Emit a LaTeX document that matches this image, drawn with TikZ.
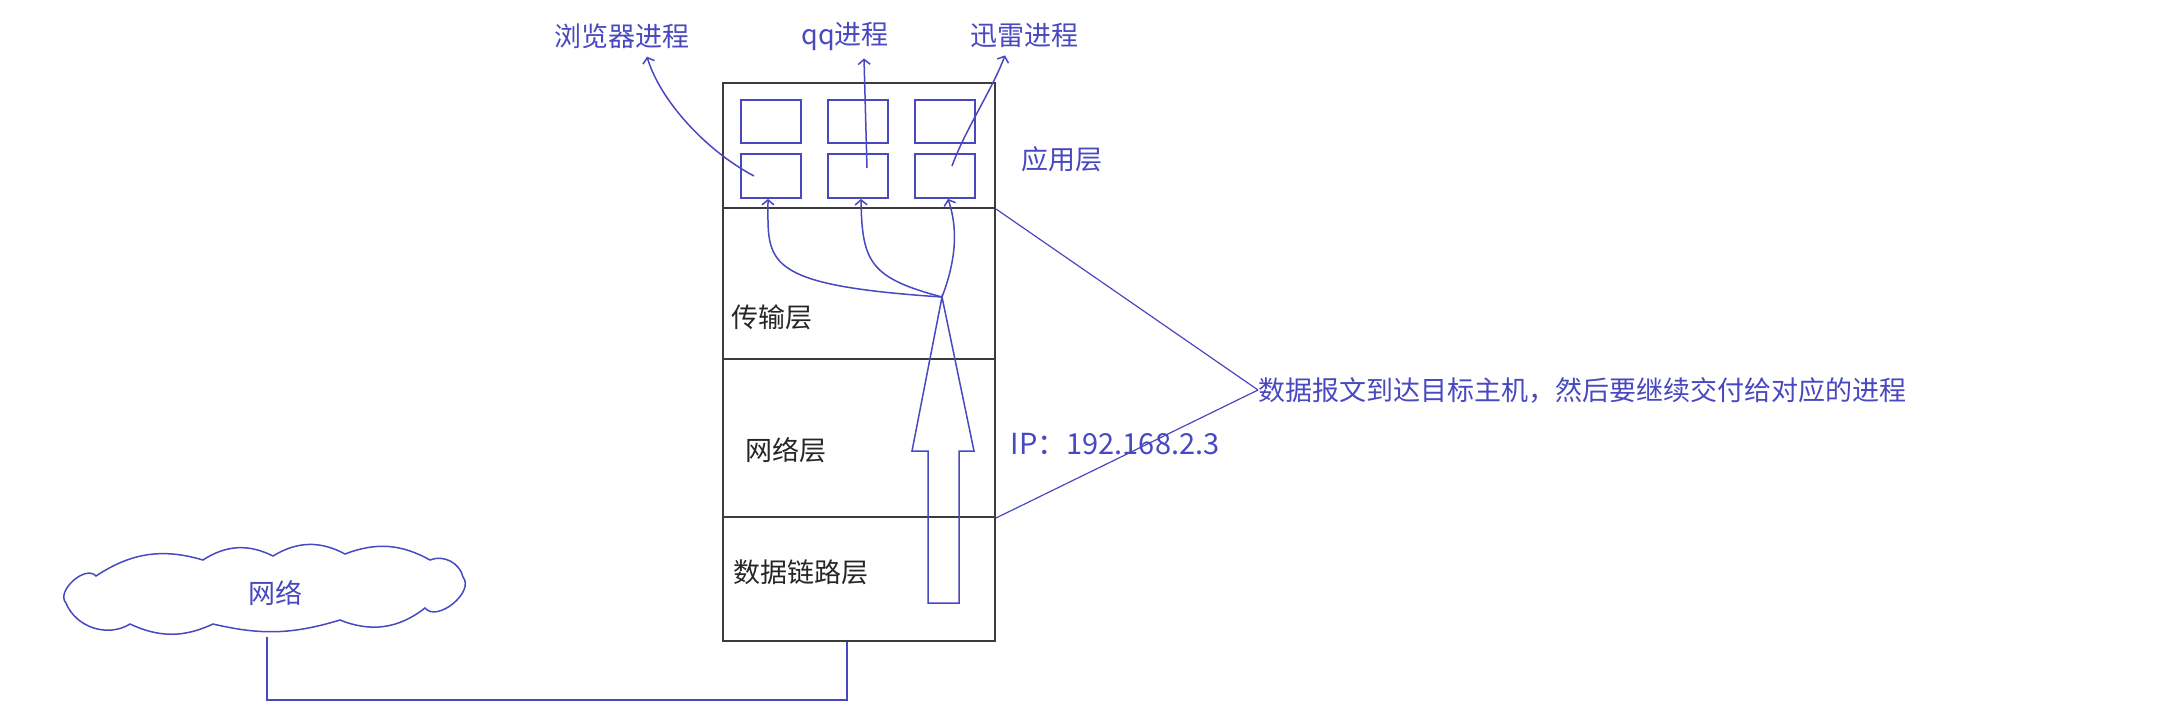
\documentclass[tikz,border=0pt]{standalone}
\usepackage{fontspec}
\setmainfont{Noto Sans CJK SC}
\usetikzlibrary{arrows.meta}

\definecolor{penblue}{RGB}{72,72,192}
\definecolor{framegray}{RGB}{60,60,60}

\tikzset{
	layer/.style = {draw = framegray, line width = 2pt, minimum width = 272pt, inner sep = 0pt},
	proc/.style = {draw = penblue, line width = 1.8pt, minimum width = 60pt, minimum height = 44pt, inner sep = 0pt},
	bluetext/.style = {text = penblue, inner sep = 2pt, font = \fontsize{27}{30}\selectfont},
	darktext/.style = {text = black!85, inner sep = 2pt, font = \fontsize{27}{30}\selectfont},
	flow/.style = {draw = penblue, line width = 1.5pt, -{Straight Barb[length = 5pt, width = 12pt]}},
	wire/.style = {draw = penblue, line width = 1.6pt}
}

\begin{document}
\begin{tikzpicture}[x = 1pt, y = -1pt]
	\useasboundingbox (0, 0) rectangle (2172, 723);

	\node [layer, minimum height = 125pt] (app) at (859, 145.5) {};
	\node [layer, minimum height = 151pt] (trans) at (859, 283.5) {};
	\node [layer, minimum height = 158pt] (net) at (859, 438) {};
	\node [layer, minimum height = 124pt] (link) at (859, 579) {};

	\foreach \i/\x in {1/771, 2/858, 3/945} {
		\node [proc, minimum height = 43pt] (u\i) at (\x, 121.5) {};
		\node [proc] (v\i) at (\x, 176) {};
	}

	\node [bluetext] (browser) at (622, 36) {浏览器进程};
	\node [bluetext] (qq) at (845, 36) {qq进程};
	\node [bluetext] (xunlei) at (1024, 35) {迅雷进程};
	\node [bluetext] (applabel) at (1062, 159) {应用层};
	\node [darktext] (translabel) at (772, 317) {传输层};
	\node [darktext] (netlabel) at (786, 450) {网络层};
	\node [darktext] (linklabel) at (801, 572) {数据链路层};
	\node [bluetext, font = \fontsize{29}{30}\selectfont] (ip) at (1115, 444) {IP：192.168.2.3};
	\node [bluetext, anchor = west, inner sep = 0pt] (note) at (1258, 390) {数据报文到达目标主机，然后要继续交付给对应的进程};

	\node [bluetext, minimum width = 418pt, minimum height = 87pt] (cloud) at (275, 593) {网络};
	\draw [penblue, line width = 1.5pt] (66, 603) to [bend left = 90] (96, 576) to [bend left = 25] (203, 560)
		to [bend left = 30] (273, 556) to [bend left = 30] (345, 554) to [bend left = 25] (430, 560)
		to [bend left = 50] (463, 577) to [bend left = 90] (425, 608) to [bend left = 30] (340, 620)
		to [bend left = 15] (213, 624) to [bend left = 25] (130, 624) to [bend left = 50] cycle;

	\draw [flow] ([xshift = -17pt]v1.center) .. controls (705, 150) and (660, 100) .. ([xshift = 25pt, yshift = -6pt]browser.south);
	\draw [flow] ([xshift = 9pt, yshift = 8pt]v2.center) -- ([xshift = 19pt, yshift = -6pt]qq.south);
	\draw [flow] ([xshift = 7pt, yshift = 10pt]v3.center) .. controls (965, 130) and (992, 90) .. ([xshift = -19pt, yshift = -6pt]xunlei.south);

	\coordinate (hub) at (942, 297);
	\draw [flow] (hub) .. controls (760, 285) and (768, 262) .. ([xshift = -3pt]v1.south);
	\draw [flow] (hub) .. controls (870, 278) and (862, 262) .. ([xshift = 3pt]v2.south);
	\draw [flow] (hub) .. controls (960, 250) and (955, 220) .. ([xshift = 3pt]v3.south);

	\draw [penblue, line width = 1.5pt] (hub) -- (974, 451) -- (959, 451) -- (959, 603) -- (928, 603) -- (928, 451) -- (912, 451) -- cycle;

	\draw [penblue, line width = 1.2pt] (app.south east) -- (note.west);
	\draw [penblue, line width = 1.2pt] (net.south east) -- (note.west);

	\coordinate (bend) at (847, 700);
	\draw [wire] ([xshift = -8pt]cloud.south) |- (bend) -- (bend |- link.south);
\end{tikzpicture}
\end{document}
